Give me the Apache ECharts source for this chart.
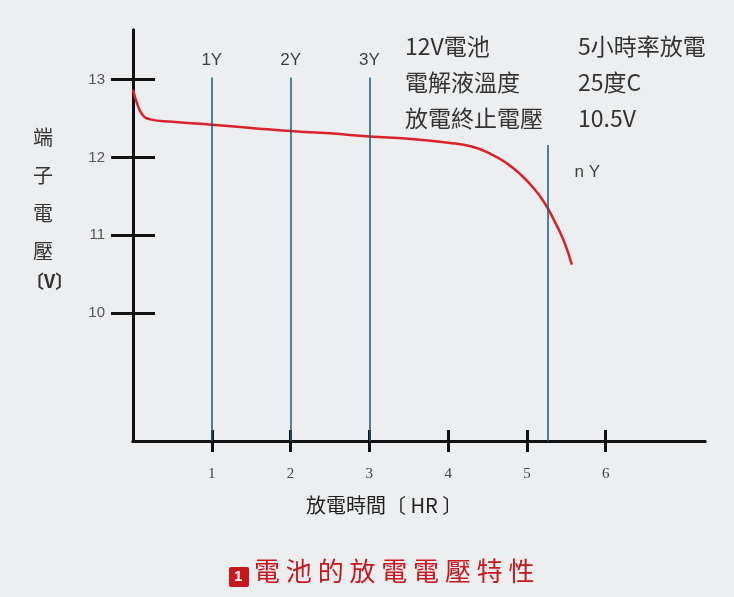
<!DOCTYPE html><html><head><meta charset="utf-8">
<script src="https://cdn.jsdelivr.net/npm/echarts@6/dist/echarts.min.js"></script>
<style>body{margin:0;background:#eceef0}#c{width:734px;height:597px}</style></head><body><div id="c"></div><script>
const curveX=[0,0.05,0.12,0.22,0.5,1,1.5,2,2.5,3,3.5,4,4.3,4.55,4.75,4.92,5.08,5.22,5.35,5.47,5.57];
const curveY=[12.87,12.7,12.55,12.49,12.46,12.42,12.38,12.34,12.31,12.27,12.24,12.19,12.14,12.04,11.92,11.78,11.61,11.42,11.18,10.92,10.62];
const yearX=[1,2,3,5.27];
const yearTop=[13.03,13.03,13.03,12.16];
const yearLabels=['1Y','2Y','3Y','n Y'];
const yTicks=[10,11,12,13];
const xTicks=[1,2,3,4,5,6];
const FONT='"Noto Sans CJK TC","Noto Sans",sans-serif';
const c=echarts.init(document.getElementById('c'));
const yMin=8.35,yMax=13.64;
const axX={type:'value',position:'bottom',min:0,max:7.26,axisLine:{lineStyle:{color:'#111',width:3}},splitLine:{show:false},
 axisTick:{customValues:xTicks,length:11,lineStyle:{color:'#111',width:3}},axisLabel:{customValues:xTicks,margin:26,color:'#444',fontSize:15,fontFamily:'Liberation Serif'}};
const axY={type:'value',position:'left',min:yMin,max:yMax,axisLine:{show:true,lineStyle:{color:'#111',width:3}},splitLine:{show:false},
 axisTick:{customValues:yTicks,length:22,lineStyle:{color:'#111',width:3}},axisLabel:{customValues:yTicks,margin:28,color:'#555',fontSize:15,fontFamily:'Liberation Sans'}};
c.setOption({
 backgroundColor:'#eceef0',animation:false,
 grid:{left:133,right:29,top:30,bottom:156},
 xAxis:[axX,Object.assign({},axX,{axisLabel:{show:false},axisTick:Object.assign({},axX.axisTick,{inside:true})})],
 yAxis:[axY,Object.assign({},axY,{axisLabel:{show:false},axisTick:Object.assign({},axY.axisTick,{inside:true})})],
 series:[
  {type:'line',data:curveX.map((x,i)=>[x,curveY[i]]),smooth:true,symbol:'none',lineStyle:{color:'#d8232a',width:2.5},z:3},
  {type:'line',data:[],symbol:'none',markLine:{silent:true,symbol:'none',lineStyle:{color:'#1d5a7c',width:1.5,type:'solid'},
   label:{show:false},data:yearX.map((x,i)=>[{coord:[x,yMin]},{coord:[x,yearTop[i]]}])}},
  {type:'scatter',symbolSize:0,data:yearX.map((x,i)=>[x,yearTop[i]]),label:{show:true,formatter:p=>yearLabels[p.dataIndex],
   position:'top',distance:9,color:'#111',fontSize:17,fontFamily:'Liberation Sans'},
   labelLayout:p=>p.dataIndex===3?{dx:39,dy:45}:{}}
 ],
 graphic:[
  {type:'text',left:405,top:28,style:{text:'12V電池\n電解液溫度\n放電終止電壓',font:'23px '+FONT,fill:'#333',lineHeight:36}},
  {type:'text',left:578,top:28,style:{text:'5小時率放電\n25度C\n10.5V',font:'23px '+FONT,fill:'#333',lineHeight:36}},
  {type:'text',left:33,top:118,style:{text:'端\n子\n電\n壓',font:'20px '+FONT,fill:'#333',lineHeight:38}},
  {type:'text',left:26,top:272,style:{text:'〔V〕',font:'bold 18px '+FONT,fill:'#333'}},
  {type:'text',left:306,top:495,style:{text:'放電時間〔 HR 〕',font:'20px '+FONT,fill:'#222'}},
  {type:'rect',left:229,top:567,shape:{width:20,height:20,r:2},style:{fill:'#c8161d'}},
  {type:'text',left:234,top:569,style:{text:'1',font:'bold 15px Liberation Sans',fill:'#fff'}},
  {type:'text',left:254,top:558,style:{text:'電 池 的 放 電 電 壓 特 性',font:'26px '+FONT,fill:'#c8161d'}}
 ]
});
</script></body></html>
